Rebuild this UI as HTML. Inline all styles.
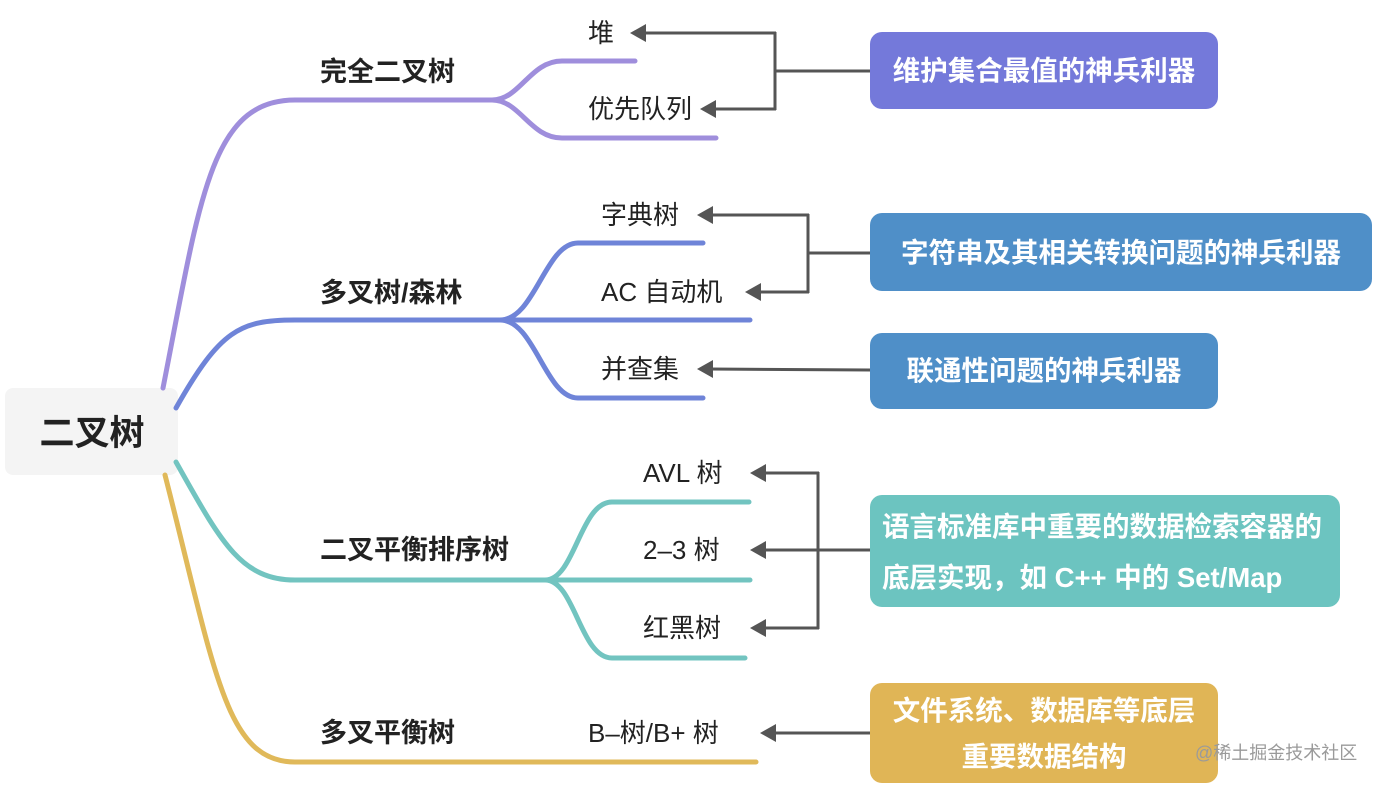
<!DOCTYPE html>
<html><head><meta charset="utf-8"><style>
body{margin:0;background:#fff;}
svg text{font-family:"Liberation Sans","Noto Sans CJK SC",sans-serif;}
</style></head><body>
<svg width="1377" height="786" viewBox="0 0 1377 786" xmlns="http://www.w3.org/2000/svg">
<rect x="5" y="388" width="173" height="87" rx="8" fill="#f4f4f4"/>
<text x="92" y="445" font-size="35" font-weight="bold" fill="#222" text-anchor="middle">二叉树</text>
<g fill="none" stroke-width="5" stroke-linecap="round">
<g stroke="#9f8edc">
<path d="M163,388 C200,200 210,100 295,100 L492,100"/>
<path d="M492,100 C520,100 530,61 562,61 L635,61"/>
<path d="M492,100 C520,100 530,138 562,138 L716,138"/>
</g>
<g stroke="#6f84d8">
<path d="M176,408 C220,330 240,320 295,320 L750,320"/>
<path d="M500,320 C535,320 545,243 578,243 L703,243"/>
<path d="M500,320 C535,320 545,398 578,398 L703,398"/>
</g>
<g stroke="#72c4c0">
<path d="M176,462 C220,540 240,580 295,580 L750,580"/>
<path d="M545,580 C575,580 580,502 612,502 L749,502"/>
<path d="M545,580 C575,580 580,658 612,658 L745,658"/>
</g>
<g stroke="#e0b95a">
<path d="M165,475 C215,670 225,762 295,762 L756,762"/>
</g>
</g>
<g font-size="26" fill="#222">
<text x="320" y="81" font-weight="bold" font-size="27">完全二叉树</text>
<text x="320" y="302" font-weight="bold" font-size="27">多叉树/森林</text>
<text x="320" y="559" font-weight="bold" font-size="27">二叉平衡排序树</text>
<text x="320" y="742" font-weight="bold" font-size="27">多叉平衡树</text>
<text x="588" y="42">堆</text>
<text x="588" y="118">优先队列</text>
<text x="601" y="224">字典树</text>
<text x="601" y="301">AC 自动机</text>
<text x="601" y="378">并查集</text>
<text x="643" y="482">AVL 树</text>
<text x="643" y="559">2–3 树</text>
<text x="643" y="637">红黑树</text>
<text x="588" y="742">B–树/B+ 树</text>
</g>
<g fill="none" stroke="#555" stroke-width="3">
<path d="M870,71 L775,71"/><path d="M775,32 L775,110"/>
<path d="M776,33 L642,33"/>
<path d="M776,109 L712,109"/>
<path d="M870,253 L808,253"/><path d="M808,214 L808,293"/>
<path d="M809,215 L709,215"/>
<path d="M809,292 L757,292"/>
<path d="M870,370 L709,369"/>
<path d="M870,550 L818,550"/><path d="M818,472 L818,629"/>
<path d="M819,473 L762,473"/>
<path d="M819,550 L762,550"/>
<path d="M819,628 L762,628"/>
<path d="M870,733 L772,733"/>
</g>
<g fill="#555">
<polygon points="630,33 646,24 646,42"/>
<polygon points="700,109 716,100 716,118"/>
<polygon points="697,215 713,206 713,224"/>
<polygon points="745,292 761,283 761,301"/>
<polygon points="697,369 713,360 713,378"/>
<polygon points="750,473 766,464 766,482"/>
<polygon points="750,550 766,541 766,559"/>
<polygon points="750,628 766,619 766,637"/>
<polygon points="760,733 776,724 776,742"/>
</g>
<g font-size="27.5" font-weight="bold" fill="#fff">
<rect x="870" y="32" width="348" height="77" rx="12" fill="#7479da"/>
<text x="1044" y="80" text-anchor="middle">维护集合最值的神兵利器</text>
<rect x="870" y="213" width="502" height="78" rx="12" fill="#4f8fc8"/>
<text x="1121" y="262" text-anchor="middle">字符串及其相关转换问题的神兵利器</text>
<rect x="870" y="333" width="348" height="76" rx="12" fill="#4f8fc8"/>
<text x="1044" y="380" text-anchor="middle">联通性问题的神兵利器</text>
<rect x="870" y="495" width="470" height="112" rx="12" fill="#6cc4c0"/>
<text x="882" y="536">语言标准库中重要的数据检索容器的</text>
<text x="882" y="587">底层实现，如 C++ 中的 Set/Map</text>
<rect x="870" y="683" width="348" height="100" rx="12" fill="#e0b556"/>
<text x="1044" y="720" text-anchor="middle">文件系统、数据库等底层</text>
<text x="1044" y="766" text-anchor="middle">重要数据结构</text>
</g>
<text x="1195" y="759" font-size="18" fill="#9a9a9a">@稀土掘金技术社区</text>
</svg>
</body></html>
